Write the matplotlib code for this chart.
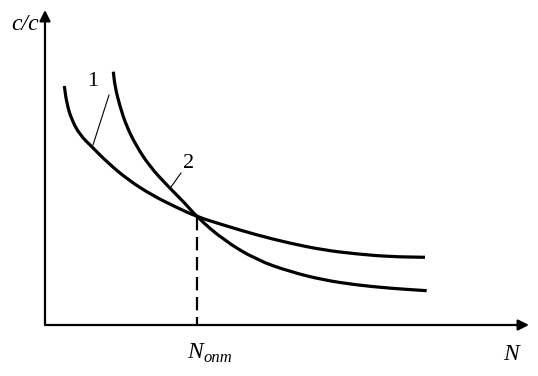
import matplotlib.pyplot as plt
from matplotlib.path import Path
from matplotlib.patches import PathPatch
import numpy as np

# кривые (условные единицы: N по оси x, c/c по оси y)
n1 = [0.483, 0.543, 0.668, 0.875, 1.168, 1.583, 2.083, 2.668, 3.25, 3.793,
      4.458, 5.293, 6.125, 6.958, 7.793, 8.625, 9.5]
c1 = [5.975, 5.543, 5.125, 4.75, 4.458, 4.043, 3.625, 3.25, 2.958, 2.708,
      2.5, 2.25, 2.043, 1.875, 1.775, 1.708, 1.693]

n2 = [1.708, 1.75, 1.875, 2.043, 2.293, 2.625, 3.043, 3.5, 3.793,
      4.458, 5.293, 6.125, 6.958, 7.793, 8.625, 9.543]
c2 = [6.333, 5.958, 5.458, 4.958, 4.458, 3.958, 3.5, 3.043, 2.708,
      2.125, 1.625, 1.333, 1.125, 1.0, 0.918, 0.858]

n_opt = 3.793
c_opt = 2.708

plt.rcParams['font.family'] = ['Liberation Serif', 'DejaVu Serif']


#сглаженная линия через точки (квадратичные кривые Безье между серединами)
def smooth_path(xs, ys):
    p = np.column_stack([xs, ys])
    verts = [p[0], (p[0] + p[1]) / 2]
    codes = [Path.MOVETO, Path.LINETO]
    for i in range(1, len(p) - 1):
        verts += [p[i], (p[i] + p[i + 1]) / 2]
        codes += [Path.CURVE3, Path.CURVE3]
    verts.append(p[-1])
    codes.append(Path.LINETO)
    return Path(verts, codes)


fig = plt.figure(figsize=(5.38, 3.76), dpi=100)
ax = fig.add_axes([0, 0, 1, 1])
ax.set_xlim(-45/40, (538-45)/40)
ax.set_ylim(-51/40, 325/40)
ax.axis('off')

# оси со стрелками
ap = dict(arrowstyle='-|>', lw=1.6, color='black', mutation_scale=16, shrinkA=0, shrinkB=0)
ax.annotate('', xy=(0, 313/40 + 0.05), xytext=(0, 0), arrowprops=ap)
ax.annotate('', xy=(12.1, 0), xytext=(0, 0), arrowprops=ap)

for xs, ys in [(n1, c1), (n2, c2)]:
    ax.add_patch(PathPatch(smooth_path(xs, ys), fill=False, edgecolor='black',
                           lw=2.3, capstyle='butt', joinstyle='round'))

# пунктир до оптимума
ax.plot([n_opt, n_opt], [c_opt, 0], color='black', lw=1.6, dashes=(6, 3))

# номера кривых
ax.plot([1.6, 1.2], [5.75, 4.5], color='black', lw=0.8)
ax.text(1.2, 6.1, '1', fontsize=16, ha='center', va='center')
ax.plot([3.4, 3.15], [3.8, 3.45], color='black', lw=0.8)
ax.text(3.6, 4.05, '2', fontsize=16, ha='center', va='center')

# подписи
ax.text(-0.5, 7.5, 'c/c', fontsize=17, style='italic', ha='center', va='center')
ax.text(11.65, -0.75, 'N', fontsize=17, style='italic', ha='center', va='center')
ax.text(3.95, -0.7, 'N', fontsize=17, style='italic', ha='right', va='center')
ax.text(3.95, -0.83, 'опт', fontsize=12, style='italic', ha='left', va='center')

fig.savefig('out.png', dpi=100)
